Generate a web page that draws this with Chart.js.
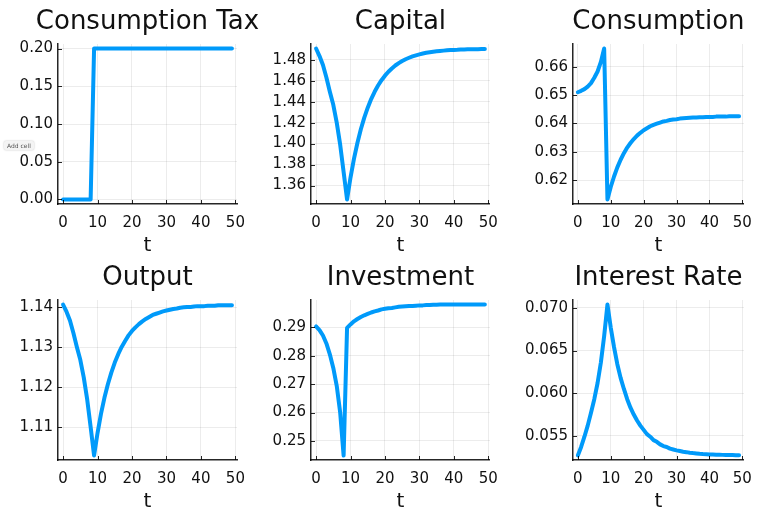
<!DOCTYPE html>
<html>
<head>
<meta charset="utf-8">
<script src="https://cdn.jsdelivr.net/npm/chart.js@4.4.1/dist/chart.umd.min.js"></script>
<style>
  body { margin: 0; background: #fff; width: 762px; height: 509px; overflow: hidden; position: relative; }
  canvas { position: absolute; }
  .add-cell {
    position: absolute; left: 4px; top: 141px; padding: 1px 3px;
    font: 6px "DejaVu Sans"; color: #555; background: #f4f4f4;
    border-radius: 2px; box-shadow: 0 0 2px rgba(0,0,0,0.25);
  }
</style>
</head>
<body>
<canvas id="tax" width="274" height="253" style="left:0px;top:0px"></canvas>
<canvas id="capital" width="254" height="253" style="left:254px;top:0px"></canvas>
<canvas id="consumption" width="254" height="253" style="left:508px;top:0px"></canvas>
<canvas id="output" width="274" height="253" style="left:0px;top:256px"></canvas>
<canvas id="investment" width="254" height="253" style="left:254px;top:256px"></canvas>
<canvas id="interest" width="254" height="253" style="left:508px;top:256px"></canvas>
<div class="add-cell">Add cell</div>
<script>
// time periods
const t = [0, 1, 2, 3, 4, 5, 6, 7, 8, 9, 10, 11, 12, 13, 14, 15, 16, 17, 18, 19,
  20, 21, 22, 23, 24, 25, 26, 27, 28, 29, 30, 31, 32, 33, 34, 35, 36, 37, 38, 39,
  40, 41, 42, 43, 44, 45, 46, 47, 48, 49];

// series
const taxValues = [0, 0, 0, 0, 0, 0, 0, 0, 0,
  0.2, 0.2, 0.2, 0.2, 0.2, 0.2, 0.2, 0.2, 0.2, 0.2, 0.2, 0.2, 0.2, 0.2, 0.2, 0.2,
  0.2, 0.2, 0.2, 0.2, 0.2, 0.2, 0.2, 0.2, 0.2, 0.2, 0.2, 0.2, 0.2, 0.2, 0.2, 0.2,
  0.2, 0.2, 0.2, 0.2, 0.2, 0.2, 0.2, 0.2, 0.2];
const capitalValues = [1.4907, 1.4835, 1.4750, 1.4630, 1.4495, 1.4370, 1.4200, 1.3990, 1.3730, 1.3467,
  1.3676, 1.3854, 1.4006, 1.4137, 1.4248, 1.4343, 1.4425, 1.4494, 1.4554, 1.4605,
  1.4648, 1.4686, 1.4717, 1.4745, 1.4768, 1.4788, 1.4805, 1.4819, 1.4832, 1.4842,
  1.4851, 1.4859, 1.4866, 1.4871, 1.4876, 1.4880, 1.4884, 1.4887, 1.4890, 1.4892,
  1.4894, 1.4895, 1.4897, 1.4898, 1.4899, 1.4900, 1.4901, 1.4901, 1.4902, 1.4902];
const consumptionValues = [0.6510, 0.6515, 0.6521, 0.6530, 0.6542, 0.6561, 0.6583, 0.6617, 0.6664, 0.6132,
  0.6176, 0.6213, 0.6245, 0.6272, 0.6295, 0.6315, 0.6331, 0.6345, 0.6357, 0.6367,
  0.6376, 0.6383, 0.6390, 0.6395, 0.6399, 0.6403, 0.6407, 0.6409, 0.6412, 0.6414,
  0.6415, 0.6417, 0.6418, 0.6419, 0.6420, 0.6421, 0.6421, 0.6422, 0.6422, 0.6423,
  0.6423, 0.6423, 0.6424, 0.6424, 0.6424, 0.6424, 0.6425, 0.6425, 0.6425, 0.6425];
const outputValues = [1.1407, 1.1389, 1.1367, 1.1336, 1.1301, 1.1269, 1.1225, 1.1170, 1.1101, 1.1030,
  1.1086, 1.1134, 1.1174, 1.1208, 1.1237, 1.1262, 1.1283, 1.1301, 1.1316, 1.1330,
  1.1341, 1.1350, 1.1358, 1.1365, 1.1371, 1.1376, 1.1381, 1.1384, 1.1387, 1.1390,
  1.1392, 1.1394, 1.1396, 1.1397, 1.1399, 1.1400, 1.1401, 1.1401, 1.1402, 1.1403,
  1.1403, 1.1403, 1.1404, 1.1404, 1.1404, 1.1405, 1.1405, 1.1405, 1.1405, 1.1405];
const investmentValues = [0.2903, 0.2890, 0.2871, 0.2843, 0.2805, 0.2757, 0.2694, 0.2600, 0.2449, 0.2898,
  0.2910, 0.2921, 0.2929, 0.2936, 0.2942, 0.2947, 0.2952, 0.2956, 0.2959, 0.2963,
  0.2965, 0.2967, 0.2968, 0.2970, 0.2972, 0.2973, 0.2974, 0.2975, 0.2975, 0.2976,
  0.2977, 0.2977, 0.2978, 0.2978, 0.2979, 0.2979, 0.2980, 0.2980, 0.2980, 0.2980,
  0.2980, 0.2980, 0.2980, 0.2980, 0.2980, 0.2980, 0.2980, 0.2980, 0.2980, 0.2980];
const interestValues = [0.0527, 0.0537, 0.0549, 0.0562, 0.0577, 0.0593, 0.0612, 0.0636, 0.0667, 0.0704,
  0.0677, 0.0654, 0.0634, 0.0618, 0.0605, 0.0593, 0.0583, 0.0575, 0.0568, 0.0562,
  0.0557, 0.0552, 0.0549, 0.0545, 0.0543, 0.0540, 0.0538, 0.0537, 0.0535, 0.0534,
  0.0533, 0.05322, 0.05314, 0.05309, 0.05303, 0.05298, 0.05294, 0.05290, 0.05287, 0.05285,
  0.05282, 0.05281, 0.05279, 0.05278, 0.05277, 0.05276, 0.05275, 0.05275, 0.05273, 0.05273];

// tick labels
const xTickLabels = ['0', '10', '20', '30', '40', '50'];
const taxTicks = ['0.00', '0.05', '0.10', '0.15', '0.20'];
const capitalTicks = ['1.36', '1.38', '1.40', '1.42', '1.44', '1.46', '1.48'];
const consumptionTicks = ['0.62', '0.63', '0.64', '0.65', '0.66'];
const outputTicks = ['1.11', '1.12', '1.13', '1.14'];
const investmentTicks = ['0.25', '0.26', '0.27', '0.28', '0.29'];
const interestTicks = ['0.055', '0.060', '0.065', '0.070'];

const FONT = 'DejaVu Sans';
const LINE = '#009afa';
const AXIS = 'rgba(0,0,0,0.85)';
const GRID = 'rgba(0,0,0,0.075)';

// y axis width and right padding per column (first column canvas is wider so its title fits)
const columns = [
  { yWidth: 58, right: 37 },
  { yWidth: 57, right: 18 },
  { yWidth: 65, right: 10 }
];

// Plots.jl widens the data range by 3% on each side
function widen(vals) {
  const lo = Math.min(...vals), hi = Math.max(...vals);
  const pad = (hi - lo) * 0.03;
  return [lo - pad, hi + pad];
}

// title centred over the plot area, like Plots.jl does
const plotTitle = {
  id: 'plotTitle',
  afterDraw(chart, args, opts) {
    const { ctx, chartArea } = chart;
    ctx.save();
    ctx.font = '26px "' + FONT + '"';
    ctx.fillStyle = '#111';
    ctx.textAlign = 'center';
    ctx.textBaseline = 'alphabetic';
    ctx.fillText(opts.text, (chartArea.left + chartArea.right) / 2, 28.5);
    ctx.restore();
  }
};

// small tick marks pointing into the plot area
const innerTicks = {
  id: 'innerTicks',
  afterDraw(chart) {
    const { ctx, chartArea, scales } = chart;
    ctx.save();
    ctx.strokeStyle = AXIS;
    ctx.lineWidth = 1;
    scales.x.ticks.forEach(tk => {
      const px = Math.round(scales.x.getPixelForValue(tk.value)) + 0.5;
      ctx.beginPath();
      ctx.moveTo(px, chartArea.bottom);
      ctx.lineTo(px, chartArea.bottom - 4);
      ctx.stroke();
    });
    scales.y.ticks.forEach(tk => {
      const py = Math.round(scales.y.getPixelForValue(tk.value)) + 0.5;
      ctx.beginPath();
      ctx.moveTo(chartArea.left, py);
      ctx.lineTo(chartArea.left + 4, py);
      ctx.stroke();
    });
    ctx.restore();
  }
};

function makePanel(id, title, values, yTicks, col) {
  const [xMin, xMax] = widen(t);
  const [yMin, yMax] = widen(values);
  const yVals = yTicks.map(parseFloat);
  const xVals = xTickLabels.map(parseFloat);

  new Chart(document.getElementById(id), {
    type: 'line',
    data: {
      datasets: [{
        data: t.map((x, i) => ({ x: x, y: values[i] })),
        borderColor: LINE,
        borderWidth: 4,
        pointRadius: 0,
        tension: 0,
        borderJoinStyle: 'round',
        borderCapStyle: 'round'
      }]
    },
    options: {
      responsive: false,
      animation: false,
      events: [],
      layout: { padding: { left: 0, right: columns[col].right, top: 44, bottom: 0 } },
      plugins: {
        legend: { display: false },
        tooltip: { enabled: false },
        title: { display: false },
        plotTitle: { text: title }
      },
      scales: {
        x: {
          type: 'linear',
          min: xMin,
          max: xMax,
          afterBuildTicks: axis => { axis.ticks = xVals.map(v => ({ value: v })); },
          afterFit: axis => { axis.height = 49; },
          grid: { color: GRID, drawTicks: false },
          border: { color: AXIS, width: 1.5 },
          ticks: {
            color: '#111',
            font: { family: FONT, size: 15 },
            padding: 10,
            maxRotation: 0,
            autoSkip: false,
            callback: (v, i) => xTickLabels[i]
          },
          title: {
            display: true,
            text: 't',
            color: '#111',
            font: { family: FONT, size: 20, lineHeight: 0.7 },
            padding: { top: 0, bottom: 0 }
          }
        },
        y: {
          type: 'linear',
          min: yMin,
          max: yMax,
          afterBuildTicks: axis => { axis.ticks = yVals.map(v => ({ value: v })); },
          afterFit: axis => { axis.width = columns[col].yWidth; },
          grid: { color: GRID, drawTicks: false },
          border: { color: AXIS, width: 1.5 },
          ticks: {
            color: '#111',
            font: { family: FONT, size: 15 },
            padding: 5,
            autoSkip: false,
            callback: (v, i) => yTicks[i]
          }
        }
      }
    },
    plugins: [innerTicks, plotTitle]
  });
}

makePanel('tax', 'Consumption Tax', taxValues, taxTicks, 0);
makePanel('capital', 'Capital', capitalValues, capitalTicks, 1);
makePanel('consumption', 'Consumption', consumptionValues, consumptionTicks, 2);
makePanel('output', 'Output', outputValues, outputTicks, 0);
makePanel('investment', 'Investment', investmentValues, investmentTicks, 1);
makePanel('interest', 'Interest Rate', interestValues, interestTicks, 2);
</script>
</body>
</html>
